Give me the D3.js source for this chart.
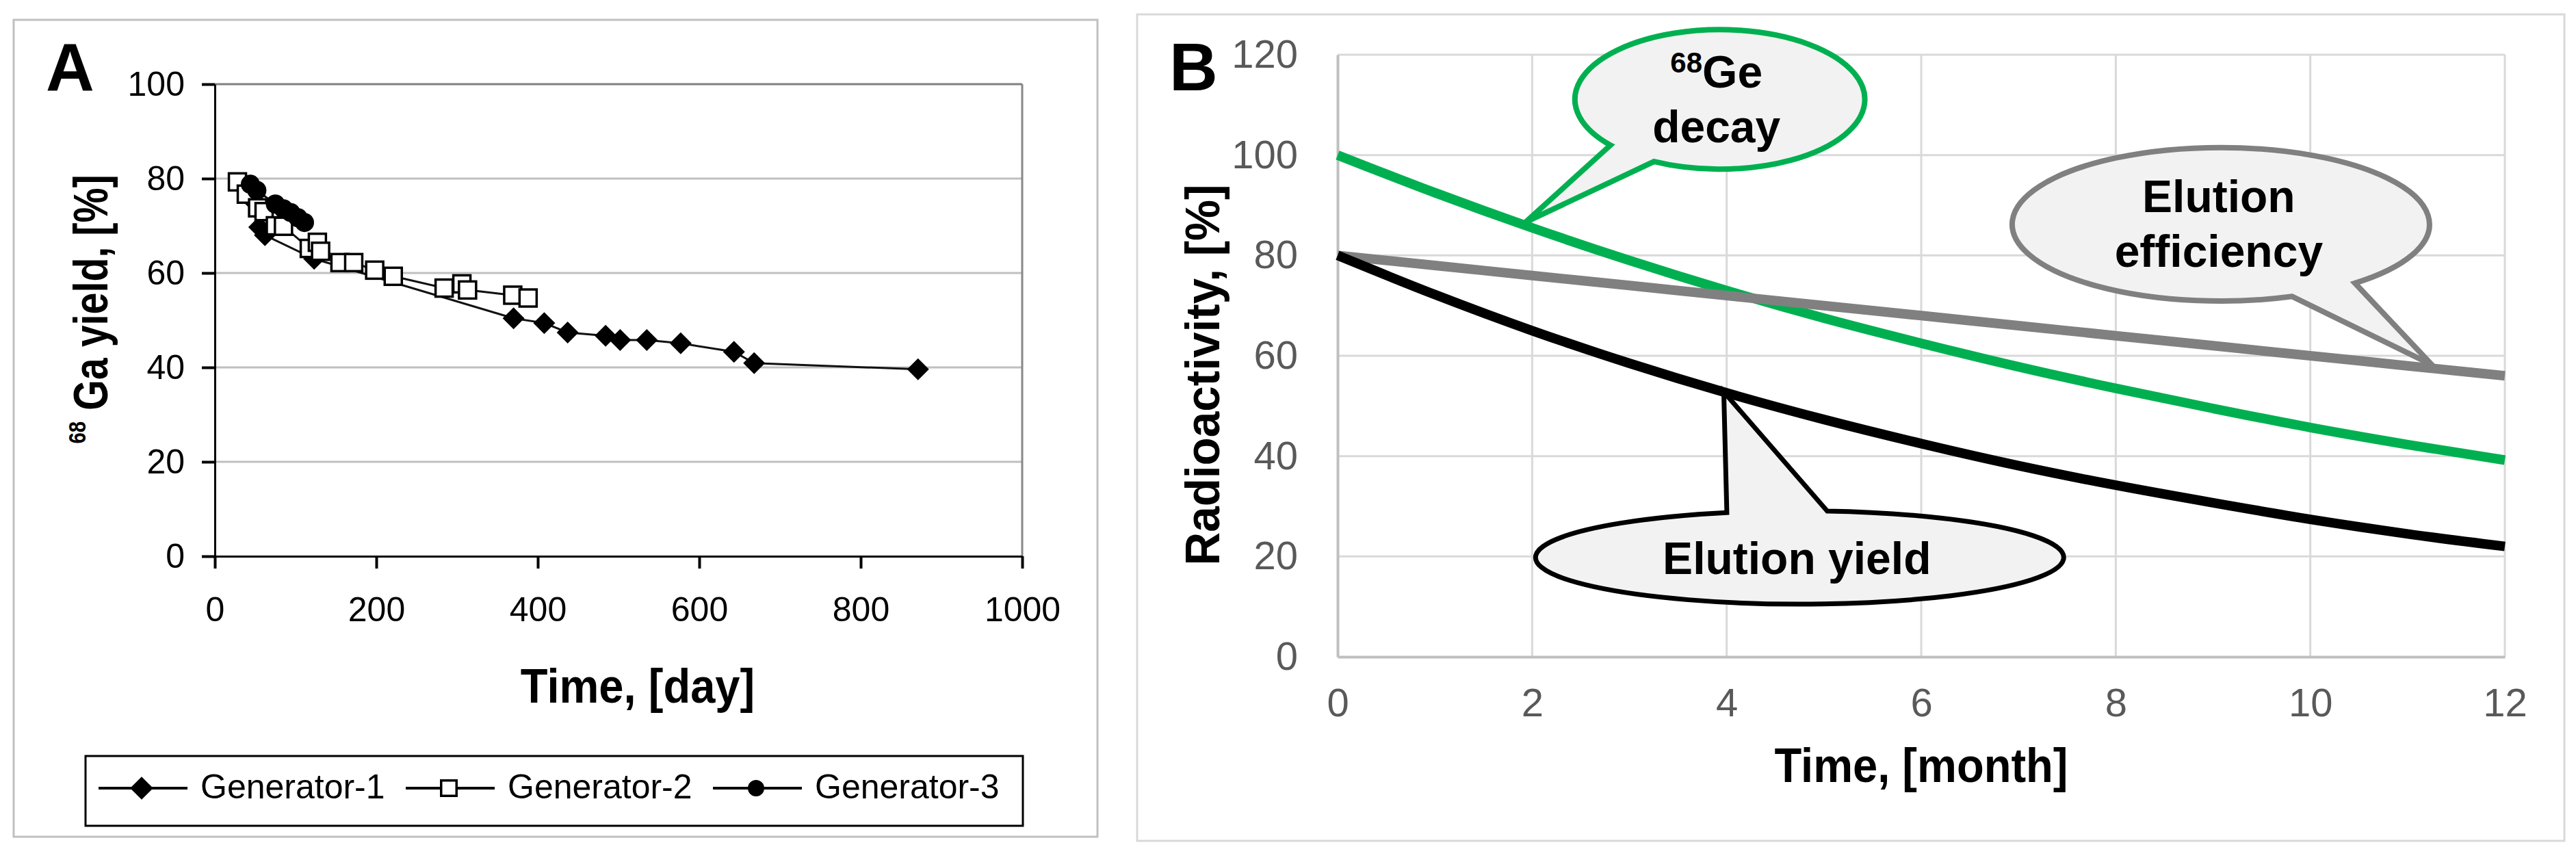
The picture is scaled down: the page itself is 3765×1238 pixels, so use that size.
<!DOCTYPE html>
<html>
<head>
<meta charset="utf-8">
<script src="https://cdn.jsdelivr.net/npm/d3@7"></script>
<style>
  body { margin: 0; background: #fff; }
  svg { display: block; }
  text { font-family: "Liberation Sans", Arial, sans-serif; }
</style>
</head>
<body>
<script>
// ---- panel A: 68Ga yield of three generators ----
var gen1Days  = [43, 55, 62, 123, 370, 408, 437, 484, 502, 535, 577, 643, 668, 871];
var gen1Yield = [76.0, 69.7, 68.0, 63.0, 50.4, 49.4, 47.4, 46.7, 45.8, 45.8, 45.1, 43.3, 40.9, 39.6];

var gen2Days  = [28, 39, 53, 61, 75, 85, 117, 127, 131, 155, 172, 198, 221, 284, 306, 313, 369, 388];
var gen2Yield = [79.3, 76.7, 73.8, 73.0, 70.0, 69.9, 65.2, 66.5, 64.6, 62.2, 62.2, 60.6, 59.3, 56.8, 57.7, 56.4, 55.3, 54.7];

var gen3Days  = [44, 52, 75, 85, 94, 103, 111];
var gen3Yield = [78.8, 77.5, 74.6, 73.6, 72.8, 71.7, 70.7];

var genNames = ["Generator-1", "Generator-2", "Generator-3"];
var aXTicks = [0, 200, 400, 600, 800, 1000];
var aYTicks = [0, 20, 40, 60, 80, 100];

// ---- panel B: radioactivity over a year ----
var months       = [0, 1, 2, 3, 4, 5, 6, 7, 8, 9, 10, 11, 12];
var geDecay      = [100, 92.5, 85.5, 79, 73, 67.5, 62.5, 57.8, 53.5, 49.5, 45.7, 42.3, 39.2];
var elutionEff   = [80, 78, 76, 74, 72, 70, 68, 66, 64, 62, 60, 58, 56];
var elutionYield = [80, 72.2, 65, 58.5, 52.6, 47.3, 42.5, 38.1, 34.2, 30.7, 27.4, 24.5, 22];
var bXTicks = [0, 2, 4, 6, 8, 10, 12];
var bYTicks = [0, 20, 40, 60, 80, 100, 120];

// callouts, in data units of panel B (centre, radii, tail angles, tip)
var callouts = [
  {lines: [["68", "Ge"], ["decay"]], color: "#00b050", cx: 3.93, cy: 111.1, rx: 1.49, ry: 13.9, a: [117, 139], tip: [1.93, 86.6], dx: -5, dy: [-17, 63], sw: 8},
  {lines: [["", "Elution"], ["efficiency"]], color: "#808080", cx: 9.08, cy: 86.2, rx: 2.145, ry: 15.3, a: [50, 70], tip: [11.25, 58.2], dx: -3, dy: [-18, 62], sw: 8},
  {lines: [["", "Elution yield"]], color: "#000000", cx: 4.75, cy: 19.8, rx: 2.715, ry: 9.3, a: [-106, -84], tip: [3.97, 52.8], dx: -4, dy: [24], sw: 7}
];

var W = 3765, H = 1238;
var svg = d3.select("body").append("svg").attr("width", W).attr("height", H);

// ================= panel A =================
svg.append("rect").attr("x", 20).attr("y", 29).attr("width", 1584).attr("height", 1194)
  .attr("fill", "none").attr("stroke", "#c0c0c0").attr("stroke-width", 3);

var xA = d3.scaleLinear().domain([0, 1000]).range([314, 1494]);
var yA = d3.scaleLinear().domain([0, 100]).range([813, 123]);
var gA = svg.append("g");

gA.selectAll(".gridA").data(aYTicks.filter(function(v){ return v > 0 && v < 100; }))
  .enter().append("line")
  .attr("x1", xA(0)).attr("x2", xA(1000))
  .attr("y1", function(d){ return yA(d); }).attr("y2", function(d){ return yA(d); })
  .attr("stroke", "#c0c0c0").attr("stroke-width", 3);
gA.append("line").attr("x1", xA(0)).attr("x2", xA(1000)).attr("y1", yA(100)).attr("y2", yA(100))
  .attr("stroke", "#808080").attr("stroke-width", 3);
gA.append("line").attr("x1", xA(1000)).attr("x2", xA(1000)).attr("y1", yA(100)).attr("y2", yA(0))
  .attr("stroke", "#888888").attr("stroke-width", 3);

function styleAxis(g, size, color, lineW, tickW) {
  g.selectAll("text").attr("font-size", size).attr("fill", color)
    .attr("font-family", '"Liberation Sans", Arial, sans-serif');
  g.select("path.domain").attr("stroke-width", lineW);
  g.selectAll(".tick line").attr("stroke-width", tickW);
}

var axA_y = gA.append("g").attr("transform", "translate(" + xA(0) + ",0)")
  .call(d3.axisLeft(yA).tickValues(aYTicks).tickFormat(d3.format("d"))
    .tickSize(19).tickSizeOuter(0).tickPadding(25));
styleAxis(axA_y, 50, "#000", 3, 4);
var axA_x = gA.append("g").attr("transform", "translate(0," + yA(0) + ")")
  .call(d3.axisBottom(xA).tickValues(aXTicks).tickFormat(d3.format("d"))
    .tickSize(18).tickSizeOuter(0).tickPadding(41));
styleAxis(axA_x, 50, "#000", 3, 4);

var seriesA = [
  {days: gen1Days, vals: gen1Yield, marker: "diamond"},
  {days: gen2Days, vals: gen2Yield, marker: "square"},
  {days: gen3Days, vals: gen3Yield, marker: "circle"}
];

function drawMarker(g, type, x, y, scale) {
  var s = scale || 1;
  if (type === "diamond") {
    var h = 16 * s;
    g.append("path").attr("d", "M" + x + "," + (y - h) + "L" + (x + h) + "," + y + "L" + x + "," + (y + h) + "L" + (x - h) + "," + y + "Z")
      .attr("fill", "#000");
  } else if (type === "square") {
    var a = 25 * s;
    g.append("rect").attr("x", x - a / 2).attr("y", y - a / 2).attr("width", a).attr("height", a)
      .attr("fill", "#fff").attr("stroke", "#000").attr("stroke-width", 3.5);
  } else {
    g.append("circle").attr("cx", x).attr("cy", y).attr("r", 14 * s).attr("fill", "#000");
  }
}

var lineA = d3.line().x(function(d){ return xA(d[0]); }).y(function(d){ return yA(d[1]); });
seriesA.forEach(function(s) {
  var pts = d3.zip(s.days, s.vals);
  gA.append("path").attr("d", lineA(pts)).attr("fill", "none").attr("stroke", "#111").attr("stroke-width", 3);
  pts.forEach(function(p){ drawMarker(gA, s.marker, xA(p[0]), yA(p[1])); });
});

gA.append("text").attr("x", 67).attr("y", 132).attr("font-size", 98).attr("font-weight", "bold").text("A");

gA.append("text").attr("transform", "translate(932,1027) scale(0.93,1)")
  .attr("text-anchor", "middle").attr("font-size", 70).attr("font-weight", "bold").text("Time, [day]");

var yTitleA = gA.append("text").attr("transform", "translate(157,452) rotate(-90) scale(0.82,1)")
  .attr("text-anchor", "middle").attr("font-size", 70).attr("font-weight", "bold");
yTitleA.append("tspan").attr("font-size", 36).attr("dy", -32).text("68");
yTitleA.append("tspan").attr("dy", 32).text(" Ga yield, [%]");

// legend
var legA = gA.append("g");
legA.append("rect").attr("x", 125).attr("y", 1105).attr("width", 1370).attr("height", 102)
  .attr("fill", "#fff").attr("stroke", "#000").attr("stroke-width", 3);
genNames.forEach(function(name, i) {
  var x0 = 144 + i * 449, yl = 1152;
  legA.append("line").attr("x1", x0).attr("x2", x0 + 130).attr("y1", yl).attr("y2", yl)
    .attr("stroke", "#000").attr("stroke-width", 4);
  var m = seriesA[i].marker;
  drawMarker(legA, m, x0 + 63, yl, m === "square" ? 0.9 : (m === "circle" ? 0.86 : 1.05));
  legA.append("text").attr("x", x0 + 149).attr("y", 1167).attr("font-size", 50).text(name);
});

// ================= panel B =================
svg.append("rect").attr("x", 1662).attr("y", 21).attr("width", 2086).attr("height", 1208)
  .attr("fill", "none").attr("stroke", "#d9d9d9").attr("stroke-width", 3);

var xB = d3.scaleLinear().domain([0, 12]).range([1955, 3661]);
var yB = d3.scaleLinear().domain([0, 120]).range([960, 80]);
var gB = svg.append("g");

gB.selectAll(".gridBy").data(bYTicks.filter(function(v){ return v > 0; }))
  .enter().append("line")
  .attr("x1", xB(0)).attr("x2", xB(12))
  .attr("y1", function(d){ return yB(d); }).attr("y2", function(d){ return yB(d); })
  .attr("stroke", "#d9d9d9").attr("stroke-width", 3);
gB.selectAll(".gridBx").data(bXTicks.filter(function(v){ return v > 0; }))
  .enter().append("line")
  .attr("y1", yB(0)).attr("y2", yB(120))
  .attr("x1", function(d){ return xB(d); }).attr("x2", function(d){ return xB(d); })
  .attr("stroke", "#d9d9d9").attr("stroke-width", 3);

var axB_y = gB.append("g").attr("transform", "translate(" + xB(0) + ",0)")
  .call(d3.axisLeft(yB).tickValues(bYTicks).tickSize(0).tickSizeOuter(0).tickPadding(58));
styleAxis(axB_y, 58, "#595959", 4, 0);
axB_y.select("path.domain").attr("stroke", "#bfbfbf");
var axB_x = gB.append("g").attr("transform", "translate(0," + yB(0) + ")")
  .call(d3.axisBottom(xB).tickValues(bXTicks).tickSize(0).tickSizeOuter(0).tickPadding(46));
styleAxis(axB_x, 58, "#595959", 4, 0);
axB_x.select("path.domain").attr("stroke", "#bfbfbf");

var curveB = d3.line().x(function(d){ return xB(d[0]); }).y(function(d){ return yB(d[1]); })
  .curve(d3.curveMonotoneX);
[[geDecay, "#00b050"], [elutionEff, "#808080"], [elutionYield, "#000000"]].forEach(function(s) {
  gB.append("path").attr("d", curveB(d3.zip(months, s[0])))
    .attr("fill", "none").attr("stroke", s[1]).attr("stroke-width", 14);
});

// speech-bubble callouts
callouts.forEach(function(c) {
  var cx = xB(c.cx), cy = yB(c.cy);
  var rx = xB(c.rx) - xB(0), ry = yB(0) - yB(c.ry);
  function pt(deg) {
    var t = deg * Math.PI / 180;
    return [cx + rx * Math.cos(t), cy + ry * Math.sin(t)];
  }
  var lo = pt(c.a[0]), hi = pt(c.a[1]), tip = [xB(c.tip[0]), yB(c.tip[1])];
  var d = "M" + hi + "L" + tip + "L" + lo + "A" + rx + "," + ry + " 0 1 0 " + hi + "Z";
  gB.append("path").attr("d", d).attr("fill", "#f2f2f2").attr("stroke", c.color)
    .attr("stroke-width", c.sw).attr("stroke-linejoin", "miter").attr("stroke-miterlimit", 6);
  c.lines.forEach(function(ln, i) {
    var t = gB.append("text").attr("x", cx + c.dx).attr("y", cy + c.dy[i])
      .attr("text-anchor", "middle").attr("font-size", 66).attr("font-weight", "bold");
    if (ln.length === 2 && ln[0] !== "") {
      t.append("tspan").attr("font-size", 42).attr("dy", -22).text(ln[0]);
      t.append("tspan").attr("dy", 22).text(ln[1]);
    } else {
      t.text(ln[ln.length - 1]);
    }
  });
});

gB.append("text").attr("x", 1709).attr("y", 132).attr("font-size", 98).attr("font-weight", "bold").text("B");

gB.append("text").attr("transform", "translate(2808,1143) scale(0.93,1)")
  .attr("text-anchor", "middle").attr("font-size", 70).attr("font-weight", "bold").text("Time, [month]");

gB.append("text").attr("transform", "translate(1782,548) rotate(-90) scale(0.95,1)")
  .attr("text-anchor", "middle").attr("font-size", 71).attr("font-weight", "bold").text("Radioactivity, [%]");
</script>
</body>
</html>
